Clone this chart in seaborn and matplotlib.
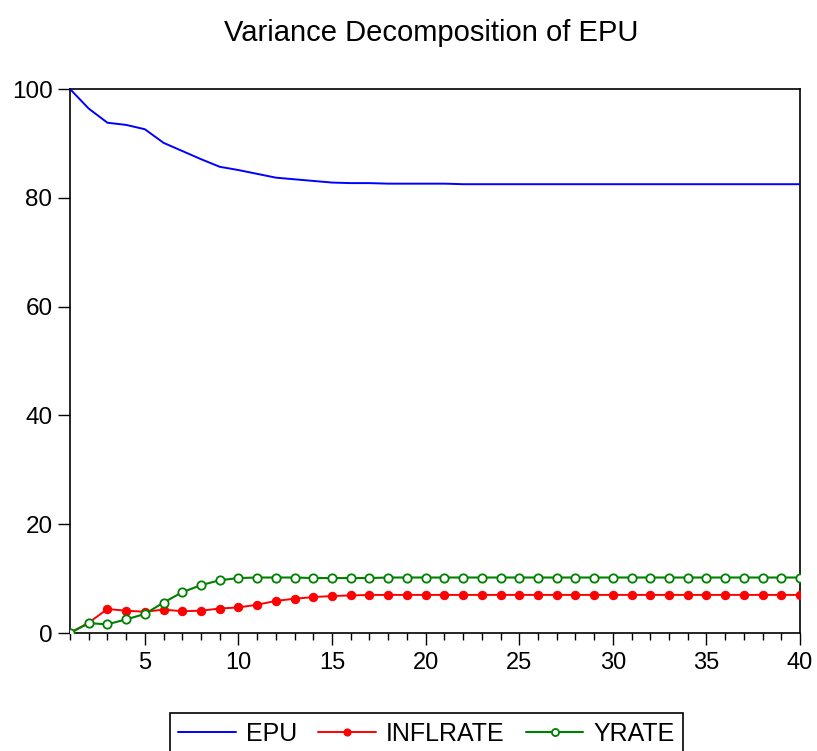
import matplotlib
matplotlib.use("Agg")
import matplotlib.pyplot as plt
from matplotlib.ticker import MultipleLocator, FixedLocator
import seaborn as sns
import pandas as pd

periods = list(range(1, 41))
epu = [100.0, 96.4, 93.8, 93.4, 92.6, 90.1, 88.6, 87.1, 85.7, 85.1,
       84.4, 83.7, 83.4, 83.1, 82.8, 82.7, 82.7, 82.6, 82.6, 82.6,
       82.6, 82.5, 82.5, 82.5, 82.5, 82.5, 82.5, 82.5, 82.5, 82.5,
       82.5, 82.5, 82.5, 82.5, 82.5, 82.5, 82.5, 82.5, 82.5, 82.5]
inflrate = [0.0, 1.9, 4.4, 4.1, 3.9, 4.3, 4.0, 4.1, 4.5, 4.7,
            5.2, 5.9, 6.3, 6.6, 6.8, 6.9, 7.0, 7.0, 7.0, 7.0,
            7.0, 7.0, 7.0, 7.0, 7.0, 7.0, 7.0, 7.0, 7.0, 7.0,
            7.0, 7.0, 7.0, 7.0, 7.0, 7.0, 7.0, 7.0, 7.0, 7.0]
yrate = [0.0, 1.8, 1.6, 2.5, 3.5, 5.6, 7.5, 8.8, 9.7, 10.1,
         10.2, 10.2, 10.2, 10.1, 10.1, 10.1, 10.1, 10.2, 10.2, 10.2,
         10.2, 10.2, 10.2, 10.2, 10.2, 10.2, 10.2, 10.2, 10.2, 10.2,
         10.2, 10.2, 10.2, 10.2, 10.2, 10.2, 10.2, 10.2, 10.2, 10.2]
series_names = ["EPU", "INFLRATE", "YRATE"]
title = "Variance Decomposition of EPU"
x_major_ticks = [5, 10, 15, 20, 25, 30, 35, 40]
y_ticks = [0, 20, 40, 60, 80, 100]

sns.set_style("white")
plt.rcParams["font.family"] = ["Liberation Sans", "DejaVu Sans"]
plt.rcParams["text.color"] = "black"
plt.rcParams["xtick.color"] = "black"
plt.rcParams["ytick.color"] = "black"

df = pd.DataFrame({"period": periods, "EPU": epu, "INFLRATE": inflrate, "YRATE": yrate})

fig = plt.figure(figsize=(8.17, 7.51), dpi=100)
ax = fig.add_axes([70/817, 1-633/751, 730/817, 544/751])

sns.lineplot(data=df, x="period", y="EPU", ax=ax, color="#0000ff", lw=1.4,
             label=series_names[0], zorder=3)
sns.lineplot(data=df, x="period", y="INFLRATE", ax=ax, color="#ff0000", lw=1.4,
             marker="o", markersize=6, markerfacecolor="#ff0000",
             markeredgecolor="#ff0000", label=series_names[1], zorder=4)
sns.lineplot(data=df, x="period", y="YRATE", ax=ax, color="#008000", lw=1.5,
             marker="o", markersize=6, markerfacecolor="white",
             markeredgecolor="#008000", markeredgewidth=1.3,
             label=series_names[2], zorder=5)

ax.set_xlim(1, 40)
ax.set_ylim(0, 100)
ax.set_xlabel("")
ax.set_ylabel("")
ax.xaxis.set_major_locator(FixedLocator(x_major_ticks))
ax.xaxis.set_minor_locator(MultipleLocator(1))
ax.yaxis.set_major_locator(FixedLocator(y_ticks))
ax.tick_params(axis="x", which="major", direction="out", length=8.6, width=1,
               pad=5, labelsize=17, bottom=True, colors="black")
ax.tick_params(axis="x", which="minor", direction="out", length=5, width=1,
               bottom=True, color="black")
ax.tick_params(axis="y", which="major", direction="out", length=8.6, width=1,
               pad=4, labelsize=17.5, left=True, colors="black")
ax.set_yticklabels([str(v) for v in y_ticks])
for s in ax.spines.values():
    s.set_color("black")
    s.set_linewidth(1.2)
    s.set_visible(True)

ax.set_title(title, fontsize=21, pad=34.5, x=0.495, color="black")

handles, labels = ax.get_legend_handles_labels()
ax.get_legend().remove()
leg = fig.legend(handles, labels, loc="upper center", bbox_to_anchor=(0.522, 1-713/751),
                 ncol=3, frameon=True, fancybox=False, edgecolor="black", framealpha=1,
                 fontsize=18, handlelength=2.3, handletextpad=0.4, columnspacing=0.85,
                 borderpad=0.35, borderaxespad=0, markerscale=0.85)
leg.get_frame().set_linewidth(1.2)
for t in leg.get_texts():
    t.set_color("black")

fig.savefig("out.png", dpi=100)
